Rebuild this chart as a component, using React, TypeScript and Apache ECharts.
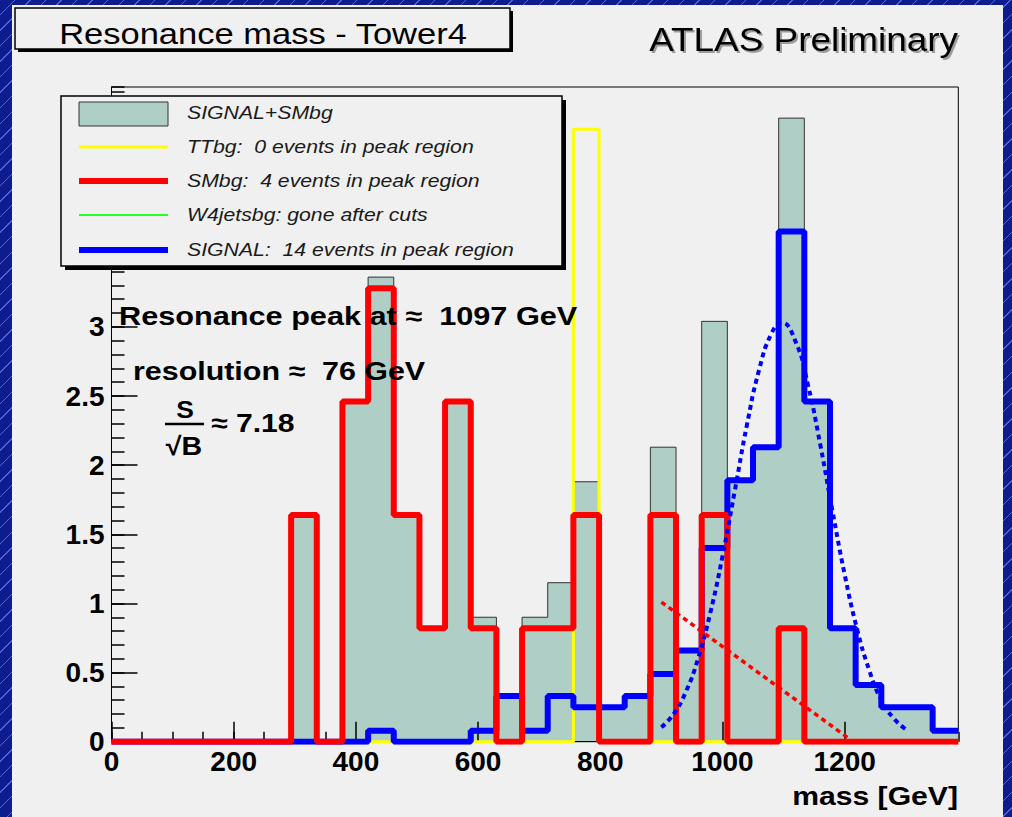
import React, { useEffect, useRef } from "react";
import * as echarts from "echarts";

// ---- data (33 bins of 42 GeV, 0 .. 1386 GeV) ----
const BIN_WIDTH = 42;
const X_MAX = 1386;
const Y_MAX = 4.735;

const signalPlusSMbg = [0, 0, 0, 0, 0, 0, 0, 1.64, 0, 2.46, 3.36, 1.64, 0.82, 2.46, 0.9, 0.33, 0.9, 1.15, 1.88, 0.25, 0.33, 2.13, 0.66, 3.04, 1.89, 2.13, 4.51, 2.46, 0.82, 0.41, 0.25, 0.25, 0.08];
const ttbg = [0, 0, 0, 0, 0, 0, 0, 0, 0, 0, 0, 0, 0, 0, 0, 0, 0, 0, 4.43, 0, 0, 0, 0, 0, 0, 0, 0, 0, 0, 0, 0, 0, 0];
const smbg = [0, 0, 0, 0, 0, 0, 0, 1.64, 0, 2.46, 3.28, 1.64, 0.82, 2.46, 0.82, 0, 0.82, 0.82, 1.64, 0, 0, 1.64, 0, 1.64, 0, 0, 0.82, 0, 0, 0, 0, 0, 0];
const w4jetsbg = [0, 0, 0, 0, 0, 0, 0, 0, 0, 0, 0, 0, 0, 0, 0, 0, 0, 0, 0, 0, 0, 0, 0, 0, 0, 0, 0, 0, 0, 0, 0, 0, 0];
const signal = [0, 0, 0, 0, 0, 0, 0, 0, 0, 0, 0.08, 0, 0, 0, 0.08, 0.33, 0.08, 0.33, 0.25, 0.25, 0.33, 0.49, 0.66, 1.4, 1.89, 2.13, 3.69, 2.46, 0.82, 0.41, 0.25, 0.25, 0.08];

// fitted curves
const signalFitX = [900, 920, 940, 960, 980, 1000, 1020, 1040, 1060, 1080, 1097, 1120, 1140, 1160, 1180, 1200, 1220, 1240, 1260, 1280, 1300];
const signalFitY = [0.105, 0.2, 0.36, 0.6, 0.93, 1.34, 1.81, 2.29, 2.69, 2.95, 3.03, 2.89, 2.58, 2.15, 1.67, 1.21, 0.82, 0.52, 0.3, 0.17, 0.09];
const bgFitX = [900, 1208];
const bgFitY = [1.01, 0.02];

const legendLabels = [
  "SIGNAL+SMbg",
  "TTbg:  0 events in peak region",
  "SMbg:  4 events in peak region",
  "W4jetsbg: gone after cuts",
  "SIGNAL:  14 events in peak region",
];

const FONT = '"Liberation Sans", Arial, Helvetica, sans-serif';
const TEAL = "#afcfc6";

const toSteps = (vals: number[]) =>
  vals.flatMap((v, i) => [
    [i * BIN_WIDTH, v],
    [(i + 1) * BIN_WIDTH, v],
  ]);

function txt(
  text: string,
  x: number,
  y: number,
  size: number,
  opts: { weight?: string; style?: string; align?: string; scaleX?: number; z?: number; fill?: string; shadow?: boolean } = {}
) {
  const align = opts.align || "left";
  const st: any = {
    text,
    fill: opts.fill || "#000",
    fontSize: size,
    fontFamily: FONT,
    fontWeight: opts.weight || "normal",
    fontStyle: opts.style || "normal",
    align,
    textAlign: align,
    verticalAlign: "middle",
    textVerticalAlign: "middle",
  };
  if (opts.shadow) {
    st.textShadowColor = "rgba(0,0,0,0.35)";
    st.textShadowOffsetX = 2;
    st.textShadowOffsetY = 2;
    st.textShadowBlur = 1;
  }
  return {
    type: "text",
    x,
    y,
    scaleX: opts.scaleX || 1,
    z: opts.z ?? 100,
    silent: true,
    style: st,
  };
}

function buildOption(): any {
  const lineSeries = (name: string, vals: number[], color: string, width: number, z: number, extra: any = {}) => ({
    type: "line",
    name,
    data: toSteps(vals),
    xAxisIndex: 0,
    yAxisIndex: 0,
    symbol: "none",
    showSymbol: false,
    silent: true,
    z,
    lineStyle: { color, width },
    ...extra,
  });

  const legendRowsY = [113, 147, 181, 215, 250];
  const legendLines = [
    { color: "#ffff00", width: 3 },
    { color: "#ff0000", width: 6 },
    { color: "#22ff22", width: 2 },
    { color: "#0000ff", width: 6 },
  ];

  const graphics: any[] = [
    // title box
    { type: "rect", shape: { x: 18, y: 11, width: 495, height: 41 }, style: { fill: "#000" }, z: 90, silent: true },
    { type: "rect", shape: { x: 15, y: 8, width: 495, height: 41 }, style: { fill: "#f0f0f0", stroke: "#000", lineWidth: 1.5 }, z: 91, silent: true },
    txt("Resonance mass - Tower4", 263, 34, 29, { align: "center", scaleX: 1.19, z: 92 }),
    txt("ATLAS Preliminary", 958, 39, 34, { align: "right", scaleX: 1.085, shadow: true }),
    // legend box
    { type: "rect", shape: { x: 65, y: 100, width: 501, height: 170 }, style: { fill: "#000" }, z: 100, silent: true },
    { type: "rect", shape: { x: 61, y: 96, width: 501, height: 170 }, style: { fill: "#f0f0f0", stroke: "#000", lineWidth: 1.5 }, z: 101, silent: true },
    { type: "rect", shape: { x: 79, y: 102, width: 89, height: 24 }, style: { fill: TEAL, stroke: "#333", lineWidth: 1 }, z: 102, silent: true },
    ...legendLines.map((l, i) => ({
      type: "line",
      shape: { x1: 79, y1: legendRowsY[i + 1], x2: 168, y2: legendRowsY[i + 1] },
      style: { stroke: l.color, lineWidth: l.width },
      z: 102,
      silent: true,
    })),
    ...legendLabels.map((t, i) => txt(t, 187, legendRowsY[i], 18, { style: "italic", scaleX: 1.18, z: 102, fill: "#1a1a1a" })),
    // annotations
    txt("Resonance peak at \u2248  1097 GeV", 119, 316, 26, { weight: "bold", scaleX: 1.18, z: 60 }),
    txt("resolution \u2248  76 GeV", 133, 371, 26, { weight: "bold", scaleX: 1.17, z: 60 }),
    txt("S", 185, 409, 24, { weight: "bold", align: "center", scaleX: 1.1, z: 60 }),
    { type: "line", shape: { x1: 165, y1: 424, x2: 204, y2: 424 }, style: { stroke: "#000", lineWidth: 2.5 }, z: 60, silent: true },
    txt("\u221AB", 184, 446, 26, { weight: "bold", align: "center", scaleX: 1.1, z: 60 }),
    txt("\u2248 7.18", 211, 423, 26, { weight: "bold", scaleX: 1.16, z: 60 }),
    txt("mass [GeV]", 958, 796, 26, { weight: "bold", align: "right", scaleX: 1.16, z: 60 }),
  ];

  const axisLabelStyle = { color: "#000", fontSize: 28, fontWeight: "bold", fontFamily: FONT };

  return {
    animation: false,
    backgroundColor: "transparent",
    grid: {
      left: 111.5,
      top: 87,
      width: 846.8,
      height: 654.7,
      show: true,
      borderColor: "#000",
      borderWidth: 1,
      backgroundColor: "transparent",
      containLabel: false,
    },
    xAxis: [
      {
        type: "value",
        min: 0,
        max: X_MAX,
        interval: 200,
        position: "bottom",
        z: 3,
        axisLine: { show: true, onZero: false, lineStyle: { color: "#000", width: 1 } },
        axisTick: { show: true, inside: true, length: 20, lineStyle: { color: "#000", width: 1.5 } },
        axisLabel: { ...axisLabelStyle, margin: 6, showMaxLabel: false, formatter: (v: number) => (v % 200 === 0 ? String(v) : "") },
        splitLine: { show: false },
      },
      {
        type: "value",
        min: 0,
        max: X_MAX,
        interval: 50,
        position: "bottom",
        axisLine: { show: false, onZero: false },
        axisTick: { show: true, inside: true, length: 10, lineStyle: { color: "#000", width: 1.5 } },
        axisLabel: { show: false },
        splitLine: { show: false },
      },
    ],
    yAxis: [
      {
        type: "value",
        min: 0,
        max: Y_MAX,
        interval: 0.5,
        position: "left",
        axisLine: { show: true, onZero: false, lineStyle: { color: "#000", width: 1 } },
        axisTick: { show: true, inside: true, length: 26, lineStyle: { color: "#000", width: 1.5 } },
        axisLabel: { ...axisLabelStyle, margin: 7, showMaxLabel: false, formatter: (v: number) => (v > 3.2 ? "" : String(v)) },
        splitLine: { show: false },
      },
      {
        type: "value",
        min: 0,
        max: Y_MAX,
        interval: 0.1,
        position: "left",
        axisLine: { show: false, onZero: false },
        axisTick: { show: true, inside: true, length: 13, lineStyle: { color: "#000", width: 1.5 } },
        axisLabel: { show: false },
        splitLine: { show: false },
      },
    ],
    series: [
      lineSeries("SIGNAL+SMbg", signalPlusSMbg, "#333", 1, 1, { areaStyle: { color: TEAL, opacity: 1 } }),
      lineSeries("W4jetsbg", w4jetsbg, "#22ff22", 1, 2),
      lineSeries("TTbg", ttbg, "#ffff00", 3, 4),
      lineSeries("SIGNAL", signal, "#0000ff", 6, 5),
      lineSeries("SMbg", smbg, "#ff0000", 6, 6),
      {
        type: "line",
        name: "signal fit",
        data: signalFitX.map((x, i) => [x, signalFitY[i]]),
        smooth: true,
        symbol: "none",
        silent: true,
        z: 7,
        lineStyle: { color: "#0000ff", width: 4, type: [5, 4] },
      },
      {
        type: "line",
        name: "bg fit",
        data: bgFitX.map((x, i) => [x, bgFitY[i]]),
        symbol: "none",
        silent: true,
        z: 7,
        lineStyle: { color: "#ff0000", width: 3.5, type: [5, 4] },
      },
    ],
    graphic: { elements: graphics },
  };
}

export default function App() {
  const ref = useRef<HTMLDivElement>(null);
  useEffect(() => {
    if (!ref.current) return;
    const chart = echarts.init(ref.current, null, { renderer: "svg" });
    chart.setOption(buildOption());
    return () => chart.dispose();
  }, []);
  return (
    <div
      style={{
        position: "fixed",
        left: 0,
        top: 0,
        width: 1012,
        height: 817,
        overflow: "hidden",
        background: "repeating-linear-gradient(135deg, #0e1c8e 0px, #0e1c8e 10px, #4a66d8 10px, #4a66d8 11px)",
      }}
    >
      <div style={{ position: "absolute", left: 12, top: 5, width: 991, height: 812, background: "#f0f0f0" }} />
      <div ref={ref} style={{ position: "absolute", left: 0, top: 0, width: 1012, height: 817 }} />
    </div>
  );
}
